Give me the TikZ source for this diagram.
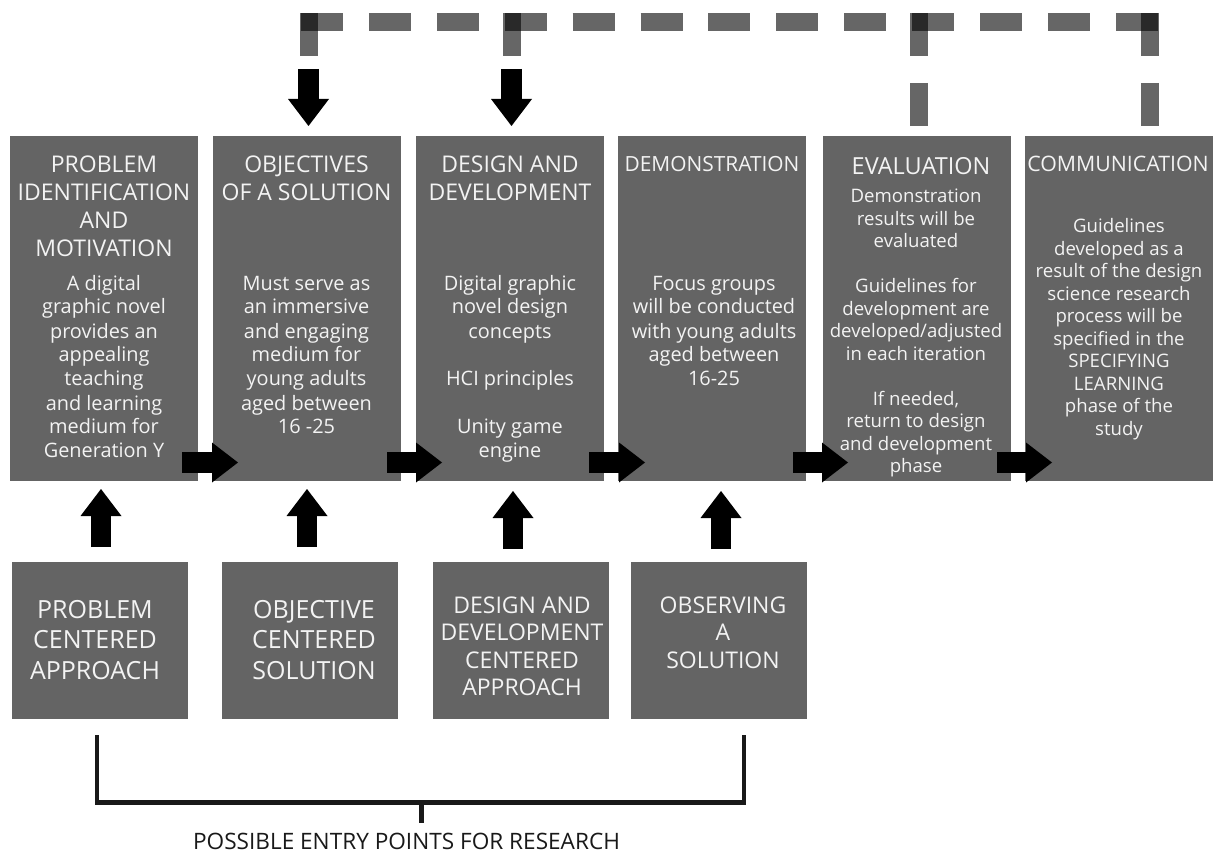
\documentclass[tikz,border=0pt]{standalone}
\usepackage{fontspec}
\setmainfont{Open Sans}
\usetikzlibrary{arrows.meta}
\definecolor{boxgray}{RGB}{100,100,100}
\definecolor{txtwhite}{RGB}{243,243,243}
\definecolor{inkdark}{RGB}{25,25,25}
\newcommand\stagehead[1]{\fontsize{#1}{27.8}\selectfont}
\newcommand\stagebody{\fontsize{19.9}{24}\selectfont}
\newcommand\stagebodysm{\fontsize{18.6}{22.5}\selectfont}
\newcommand\entrybig{\fontsize{25}{30.5}\selectfont}
\newcommand\entrysm{\fontsize{23}{27.6}\selectfont}
\newcommand\txtblock[2]{\parbox[t]{#1}{\centering #2}}
\begin{document}
\begin{tikzpicture}[x=1pt,y=-1pt,
  stage/.style={fill=boxgray, draw=none, minimum width=188pt, minimum height=345pt, anchor=north west, inner sep=0pt},
  entry/.style={fill=boxgray, draw=none, minimum width=176pt, minimum height=157pt, anchor=north west, inner sep=0pt},
  txt/.style={text=txtwhite, anchor=base, inner sep=0pt},
  flowarrow/.style={draw=black, line width=21pt, -{Triangle[length=26pt,width=40pt,line width=0pt]}},
  vertarrow/.style={draw=black, line width=20.5pt, -{Triangle[length=27pt,width=41pt,line width=0pt]}},
  feedback/.style={draw=black, draw opacity=0.6, line width=18pt},
  bracketline/.style={draw=inkdark, line width=4.5pt}
]
\useasboundingbox (0,0) rectangle (1213,853);

% top stages
\node[stage] (s1) at (10,136) {};
\node[stage] (s2) at (212.5,136) {};
\node[stage] (s3) at (416,136) {};
\node[stage] (s4) at (618,136) {};
\node[stage] (s5) at (823,136) {};
\node[stage] (s6) at (1025,136) {};

% headings
\node[txt, font=\stagehead{23}] (s1h) at (104,173) {\txtblock{186pt}{PROBLEM\\IDENTIFICATION\\AND\\MOTIVATION}};
\node[txt, font=\stagehead{23}] (s2h) at (306.5,173) {\txtblock{186pt}{OBJECTIVES\\OF A SOLUTION}};
\node[txt, font=\stagehead{23}] (s3h) at (510,173) {\txtblock{186pt}{DESIGN AND\\DEVELOPMENT}};
\node[txt, font=\stagehead{20.9}] (s4h) at (712,172) {\txtblock{186pt}{DEMONSTRATION}};
\node[txt, font=\stagehead{23.5}] (s5h) at (921,175) {\txtblock{186pt}{EVALUATION}};
\node[txt, font=\stagehead{21.3}] (s6h) at (1118,172) {\txtblock{186pt}{COMMUNICATION}};

% bodies
\node[txt, font=\stagebody] (s1b) at (104,290) {\txtblock{186pt}{A digital\\graphic novel\\provides an\\appealing\\teaching\\and learning\\medium for\\Generation Y}};
\node[txt, font=\stagebody] (s2b) at (306.5,290) {\txtblock{186pt}{Must serve as\\an immersive\\and engaging\\medium for\\young adults\\aged between\\16 -25}};
\node[txt, font=\stagebody] (s3b) at (510,290) {\txtblock{186pt}{Digital graphic\\novel design\\concepts\\[24pt]HCI principles\\[24pt]Unity game\\engine}};
\node[txt, font=\stagebody] (s4b) at (714,290) {\txtblock{186pt}{Focus groups\\will be conducted\\with young adults\\aged between\\16-25}};
\node[txt, font=\stagebodysm] (s5b) at (916,203) {\txtblock{186pt}{Demonstration\\results will be\\evaluated\\[22.5pt]Guidelines for\\development are\\developed/adjusted\\in each iteration\\[22.5pt]If needed,\\return to design\\and development\\phase}};
\node[txt, font=\stagebodysm] (s6b) at (1119,233) {\txtblock{186pt}{Guidelines\\developed as a\\result of the design\\science research\\process will be\\specified in the\\SPECIFYING\\LEARNING\\phase of the\\study}};

% entry points
\node[entry] (e1) at (12,562) {};
\node[entry] (e2) at (222,562) {};
\node[entry] (e3) at (433,562) {};
\node[entry] (e4) at (631,562) {};
\node[txt, font=\entrybig] (e1t) at (95,618) {\txtblock{174pt}{PROBLEM\\CENTERED\\APPROACH}};
\node[txt, font=\entrybig] (e2t) at (314,618) {\txtblock{174pt}{OBJECTIVE\\CENTERED\\SOLUTION}};
\node[txt, font=\entrysm] (e3t) at (522,613) {\txtblock{174pt}{DESIGN AND\\DEVELOPMENT\\CENTERED\\APPROACH}};
\node[txt, font=\entrysm] (e4t) at (723,613) {\txtblock{174pt}{OBSERVING\\A\\SOLUTION}};

% flow arrows between stages
\coordinate (f1a) at (182,462.5);  \coordinate (f1b) at (238,462.5);
\coordinate (f2a) at (387,462.5);  \coordinate (f2b) at (442,462.5);
\coordinate (f3a) at (589,462.5);  \coordinate (f3b) at (645,462.5);
\coordinate (f4a) at (793,462.5);  \coordinate (f4b) at (848,462.5);
\coordinate (f5a) at (997,462.5);  \coordinate (f5b) at (1052,462.5);
\draw[flowarrow] (f1a) -- (f1b);
\draw[flowarrow] (f2a) -- (f2b);
\draw[flowarrow] (f3a) -- (f3b);
\draw[flowarrow] (f4a) -- (f4b);
\draw[flowarrow] (f5a) -- (f5b);

% up arrows from entry points
\coordinate (u1a) at (101,547); \coordinate (u1b) at (101,489);
\coordinate (u2a) at (307,547); \coordinate (u2b) at (307,489);
\coordinate (u3a) at (513,549); \coordinate (u3b) at (513,491);
\coordinate (u4a) at (721,549); \coordinate (u4b) at (721,491);
\draw[vertarrow] (u1a) -- (u1b);
\draw[vertarrow] (u2a) -- (u2b);
\draw[vertarrow] (u3a) -- (u3b);
\draw[vertarrow] (u4a) -- (u4b);

% feedback loop (dashed)
\coordinate (fbl) at (301,22);  \coordinate (fbr) at (1158,22);
\draw[feedback, dash pattern=on 42pt off 25.9pt] (fbl) -- (fbr);
\coordinate (v1t) at (308.5,13); \coordinate (v1b) at (308.5,56);
\coordinate (v2t) at (511.5,13); \coordinate (v2b) at (511.5,56);
\coordinate (v3t) at (918.5,13); \coordinate (v3b) at (918.5,126);
\coordinate (v4t) at (1149.5,13); \coordinate (v4b) at (1149.5,126);
\draw[feedback] (v1t) -- (v1b);
\draw[feedback] (v2t) -- (v2b);
\draw[feedback, dash pattern=on 43pt off 27pt] (v3t) -- (v3b);
\draw[feedback, dash pattern=on 43pt off 27pt] (v4t) -- (v4b);
\coordinate (d1a) at (308.5,69); \coordinate (d1b) at (308.5,126);
\coordinate (d2a) at (511.5,69); \coordinate (d2b) at (511.5,126);
\draw[vertarrow] (d1a) -- (d1b);
\draw[vertarrow] (d2a) -- (d2b);

% bracket
\coordinate (bl) at (97,735); \coordinate (br) at (744,735);
\coordinate (bm) at (421.5,802.5); \coordinate (bs) at (421.5,823);
\draw[bracketline] (bl) -- (97,802.5) -- (744,802.5) -- (br);
\draw[bracketline] (bm) -- (bs);
\node[anchor=base, inner sep=0pt, text depth=0pt, text=inkdark, font=\fontsize{22.6}{27}\selectfont] (lbl) at (406.5,849) {POSSIBLE ENTRY POINTS FOR RESEARCH};
\end{tikzpicture}
\end{document}
